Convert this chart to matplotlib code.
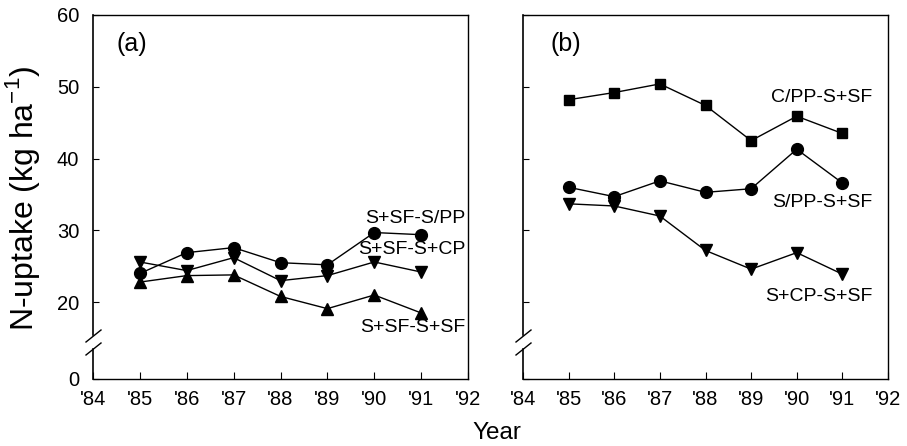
import matplotlib
matplotlib.use("Agg")
import matplotlib.pyplot as plt

plt.rcParams['font.family'] = ['Liberation Sans', 'DejaVu Sans']

years = [85, 86, 87, 88, 89, 90, 91]
xticks = [84, 85, 86, 87, 88, 89, 90, 91, 92]
xticklabels = ["'84", "'85", "'86", "'87", "'88", "'89", "'90", "'91", "'92"]
ytick_vals = [20, 30, 40, 50, 60]

# Panel (a)
a_sfspp = [24.0, 26.9, 27.6, 25.5, 25.2, 29.7, 29.4]   # circles
a_sfscp = [25.6, 24.4, 26.2, 23.0, 23.7, 25.6, 24.2]   # down triangles
a_sfssf = [22.8, 23.7, 23.8, 20.8, 19.1, 21.0, 18.5]   # up triangles

# Panel (b)
b_cpp = [48.2, 49.2, 50.4, 47.4, 42.5, 45.9, 43.5]     # squares
b_spp = [36.0, 34.7, 36.9, 35.3, 35.8, 41.3, 36.6]     # circles
b_scp = [33.7, 33.4, 32.0, 27.2, 24.6, 26.9, 23.9]     # down triangles

YBOT = 9.3  # broken axis: '0' drawn at bottom

fig = plt.figure(figsize=(9.07, 4.46), dpi=100)
axa = fig.add_axes([93/907, 1-379/446, 375/907, (379-15)/446])
axb = fig.add_axes([523/907, 1-379/446, 365/907, (379-15)/446])

def style(ax):
    ax.set_xlim(84, 92)
    ax.set_ylim(YBOT, 60)
    ax.set_xticks(xticks)
    ax.set_xticklabels(xticklabels, fontsize=14.5)
    ax.set_yticks([YBOT] + ytick_vals)
    ax.tick_params(axis='x', direction='in', length=5, width=0.8, pad=8)
    ax.tick_params(axis='y', direction='in', length=4, width=0.8, pad=10)
    for s in ['top', 'right', 'bottom']:
        ax.spines[s].set_linewidth(1.0)
    ax.spines['left'].set_visible(False)
    # broken left spine
    h = 379 - 15
    w = ax.get_position().width * 907
    yb1 = 1 - (335 - 15) / h
    yb2 = 1 - (349 - 15) / h
    ax.plot([0, 0], [yb1, 1], transform=ax.transAxes, color='k', lw=1.2, clip_on=False)
    ax.plot([0, 0], [0, yb2], transform=ax.transAxes, color='k', lw=1.2, clip_on=False)
    for yc in (336, 349):
        ax.plot([-7/w, 8/w], [1-(yc+6-15)/h, 1-(yc-6-15)/h], transform=ax.transAxes,
                color='k', lw=1.0, clip_on=False)

style(axa)
style(axb)
axa.set_yticklabels(['0'] + [str(v) for v in ytick_vals], fontsize=14.5)
axb.set_yticklabels([])

kw = dict(color='k', lw=1.0)
axa.plot(years, a_sfspp, marker='o', ms=8.5, **kw)
axa.plot(years, a_sfscp, marker='v', ms=8, **kw)
axa.plot(years, a_sfssf, marker='^', ms=8, **kw)
axb.plot(years, b_cpp, marker='s', ms=7, **kw)
axb.plot(years, b_spp, marker='o', ms=8.5, **kw)
axb.plot(years, b_scp, marker='v', ms=8, **kw)

tk = dict(fontsize=14, ha='right', va='center')
axa.text(91.95, 31.7, 'S+SF-S/PP', **tk)
axa.text(91.95, 27.4, 'S+SF-S+CP', **tk)
axa.text(91.95, 16.5, 'S+SF-S+SF', **tk)
axb.text(91.65, 48.5, 'C/PP-S+SF', **tk)
axb.text(91.65, 33.9, 'S/PP-S+SF', **tk)
axb.text(91.65, 20.8, 'S+CP-S+SF', **tk)

axa.text(84.5, 55.9, '(a)', fontsize=18, va='center')
axb.text(84.6, 55.9, '(b)', fontsize=18, va='center')

fig.text(23/907, 1-198/446, 'N-uptake (kg ha$^{\\mathregular{-1}}$)', rotation=90,
         fontsize=23, ha='center', va='center')
fig.text(497/907, 1-433/446, 'Year', fontsize=17.5, ha='center', va='center')

fig.savefig('out.png', dpi=100)
